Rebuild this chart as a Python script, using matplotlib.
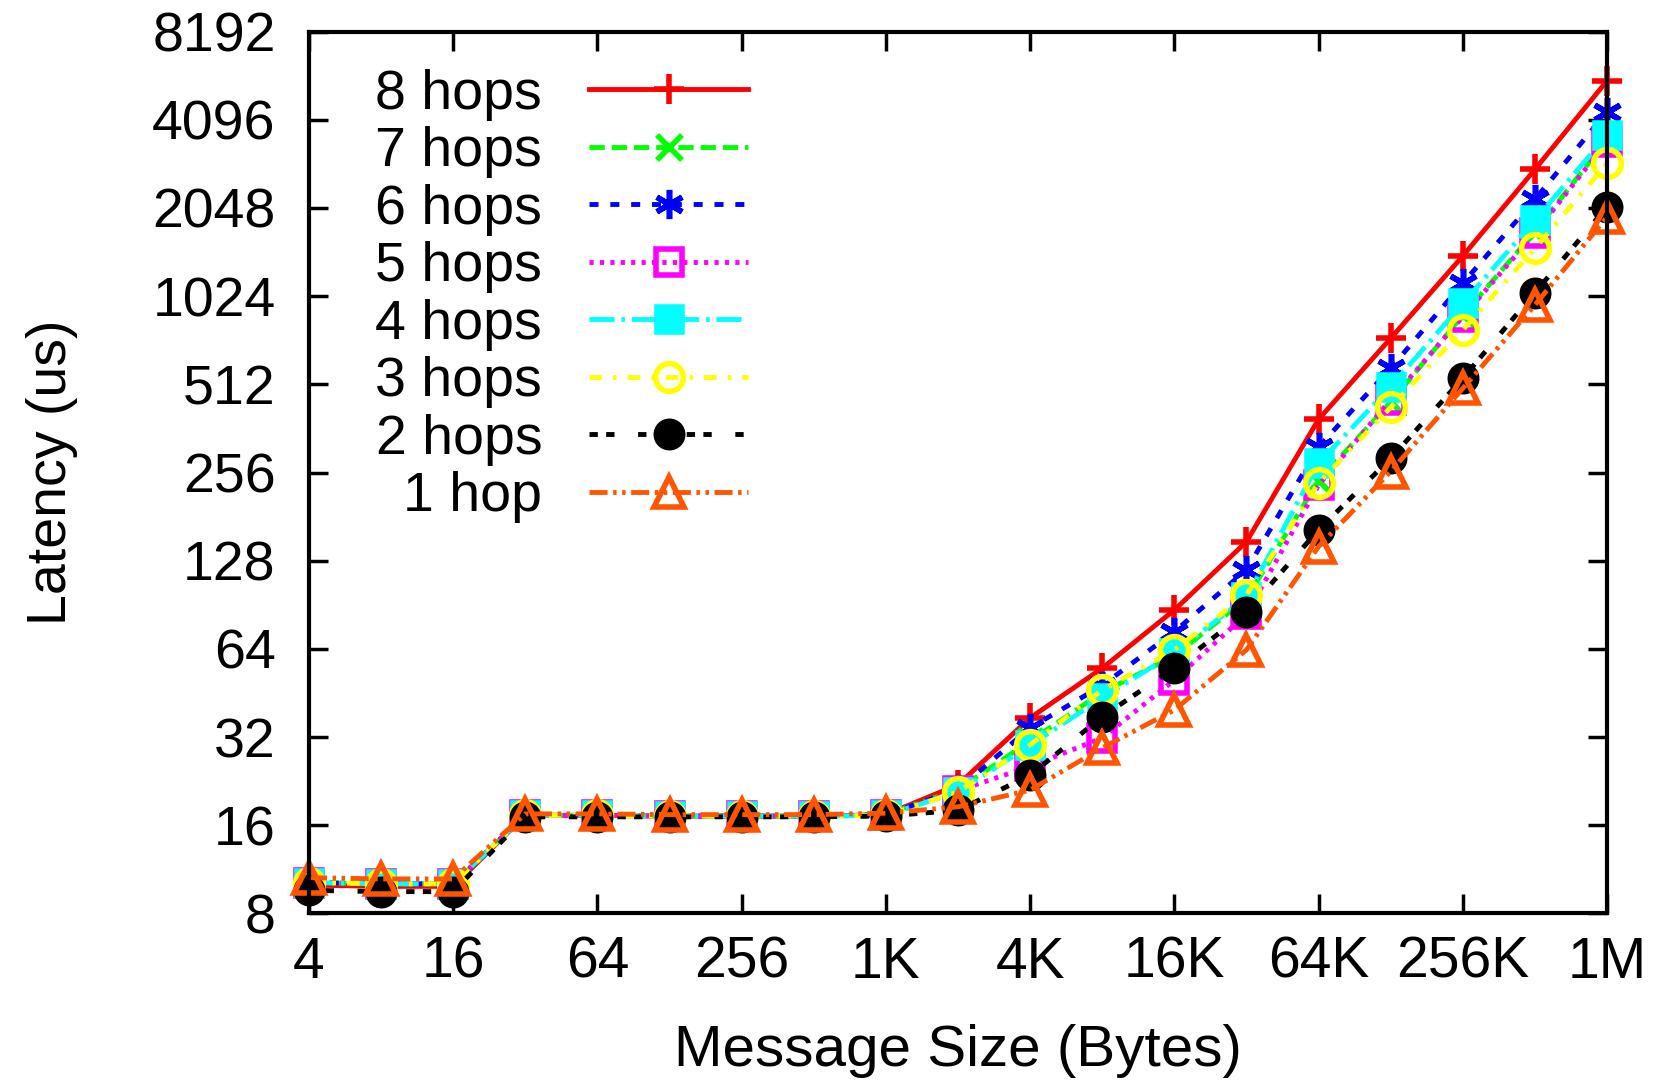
import matplotlib
matplotlib.use("Agg")
import matplotlib.pyplot as plt

plt.rcParams['font.family'] = ['Liberation Sans', 'DejaVu Sans']
plt.rcParams['lines.scale_dashes'] = False

# message sizes (bytes), one point per power of two
sizes = [2 ** k for k in range(2, 21)]
tick_pos = [4, 16, 64, 256, 1024, 4096, 16384, 65536, 262144, 1048576]
tick_lbl = ['4', '16', '64', '256', '1K', '4K', '16K', '64K', '256K', '1M']
ytick_pos = [8, 16, 32, 64, 128, 256, 512, 1024, 2048, 4096, 8192]

# latency (us) per hop count
lat_8 = [10.0, 9.9, 9.9, 17.3, 17.3, 17.2, 17.2, 17.2, 17.4, 22.0, 37.2, 55.0, 86.9, 148.6, 389, 735, 1404, 2772, 5565]
lat_7 = [10.2, 10.1, 10.1, 17.3, 17.3, 17.2, 17.2, 17.2, 17.4, 21.2, 31.0, 45.5, 60.5, 95, 240, 445, 880, 1700, 3500]
lat_6 = [10.2, 10.1, 10.1, 17.3, 17.3, 17.2, 17.2, 17.2, 17.4, 21.2, 34.4, 48.0, 73.3, 119, 313, 581, 1132, 2190, 4362]
lat_5 = [10.2, 10.1, 10.1, 17.3, 17.3, 17.2, 17.2, 17.2, 17.3, 21.0, 25.4, 31.8, 50.1, 84, 232, 453, 871, 1680, 3450]
lat_4 = [10.2, 10.1, 10.1, 17.3, 17.3, 17.2, 17.2, 17.2, 17.3, 20.8, 30.0, 43.5, 62.0, 96, 275, 503, 967, 1861, 3630]
lat_3 = [10.2, 10.1, 10.1, 17.3, 17.3, 17.2, 17.2, 17.2, 17.3, 20.8, 30.1, 46.3, 63.5, 97.8, 236, 427, 785, 1491, 2906]
lat_2 = [9.6, 9.5, 9.5, 17.1, 17.1, 17.1, 17.1, 17.1, 17.2, 18.0, 23.7, 37.6, 55.0, 85.7, 163, 286, 537, 1052, 2068]
lat_1 = [10.6, 10.5, 10.5, 17.5, 17.5, 17.4, 17.4, 17.4, 17.6, 18.5, 21.1, 29.4, 39.6, 63.5, 143, 258, 496, 955, 1910]

labels = ['8 hops', '7 hops', '6 hops', '5 hops', '4 hops', '3 hops', '2 hops', '1 hop']
series = [lat_8, lat_7, lat_6, lat_5, lat_4, lat_3, lat_2, lat_1]

# gnuplot-like styles
styles = [
    dict(color='#ff0000', ls='-', marker='+', ms=22, mfc='none'),
    dict(color='#00ff00', dashes=(11, 5), marker='x', ms=18, mfc='none'),
    dict(color='#0000ff', dashes=(6.5, 8.5), marker=(6, 2, 0), ms=21, mfc='none'),
    dict(color='#ff00ff', dashes=(3, 4.5), marker='s', ms=19, mfc='none'),
    dict(color='#00ffff', dashes=(18, 5, 2.5, 5), marker='s', ms=18, mfc='#00ffff'),
    dict(color='#ffff00', dashes=(9, 8, 2.5, 8), marker='o', ms=20, mfc='none'),
    dict(color='#000000', dashes=(6, 6, 6, 17), marker='o', ms=19, mfc='#000000'),
    dict(color='#ff5500', dashes=(13, 4, 2.5, 4, 2.5, 4), marker='^', ms=22, mfc='none'),
]

fig = plt.figure(figsize=(16.54, 10.88), dpi=100)
ax = fig.add_axes([0.1868, 0.1604, 0.7848, 0.8106])

for lab, ys, st in zip(labels, series, styles):
    st = dict(st)
    kw = dict(color=st.pop('color'), lw=3.5, mew=4, clip_on=False, label=lab)
    if 'dashes' in st:
        kw['dashes'] = st.pop('dashes')
    else:
        kw['ls'] = st.pop('ls')
    kw['mec'] = kw['color']
    ax.plot(sizes, ys, **kw, **st)

ax.set_xscale('log', base=2)
ax.set_yscale('log', base=2)
ax.set_xlim(4, 1048576)
ax.set_ylim(8, 8192)
ax.set_xticks(tick_pos)
ax.set_xticklabels(tick_lbl, fontsize=41)
ax.set_yticks(ytick_pos)
ax.set_yticklabels([str(v) for v in ytick_pos], fontsize=40)
ax.minorticks_off()

ax.tick_params(axis='both', which='major', direction='in', length=14, width=2.5,
               top=True, right=True)
ax.tick_params(axis='y', pad=24)
ax.tick_params(axis='x', pad=16)
for sp in ax.spines.values():
    sp.set_linewidth(3)

ax.set_xlabel('Message Size (Bytes)', fontsize=42)
ax.set_ylabel('Latency (us)', fontsize=40)
ax.xaxis.set_label_coords(0.5, -0.125)
ax.yaxis.set_label_coords(-0.178, 0.5)

ax.legend(loc='upper right', bbox_to_anchor=(0.338, 0.958), frameon=False,
          markerfirst=False, fontsize=40, handlelength=2.85, handletextpad=0.85,
          labelspacing=0.1, borderpad=0, borderaxespad=0, numpoints=1)

fig.savefig('out.png', dpi=100)
